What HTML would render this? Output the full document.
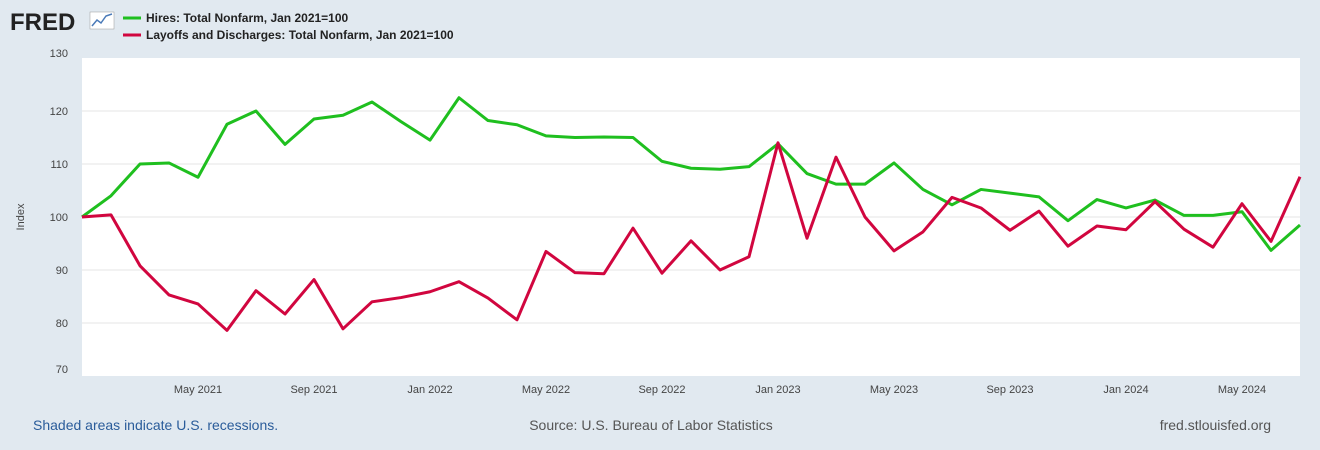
<!DOCTYPE html>
<html><head><meta charset="utf-8"><style>
body{margin:0;width:1320px;height:450px;background:#e1e9f0;font-family:"Liberation Sans",sans-serif;overflow:hidden}
svg{position:absolute;left:0;top:0}
</style></head><body>
<svg width="1320" height="450">
<g>
<text x="10" y="30" font-size="24" font-weight="bold" fill="#222">FRED</text>
<rect x="90" y="12" width="24" height="17" fill="#fff" stroke="#999" stroke-width="0.5"/>
<polyline points="92,26 97,20 101,23 106,16 112,14" fill="none" stroke="#4a7ab8" stroke-width="1.5"/>
</g>
<g>
<line x1="123" y1="18" x2="141" y2="18" stroke="#1fbf1f" stroke-width="3"/>
<text x="146" y="22" font-size="12" font-weight="bold" fill="#222">Hires: Total Nonfarm, Jan 2021=100</text>
<line x1="123" y1="35" x2="141" y2="35" stroke="#d1063f" stroke-width="3"/>
<text x="146" y="39" font-size="12" font-weight="bold" fill="#222">Layoffs and Discharges: Total Nonfarm, Jan 2021=100</text>
</g>
<rect x="82" y="58" width="1218" height="318" fill="#fff"/>
<g id="grid"></g>
<text transform="translate(24,217) rotate(-90)" text-anchor="middle" font-size="11" fill="#444">Index</text>
<g id="series"></g>
<text x="33" y="430" font-size="14" fill="#2a5c9a">Shaded areas indicate U.S. recessions.</text>
<text x="651" y="430" font-size="14" fill="#555" text-anchor="middle">Source: U.S. Bureau of Labor Statistics</text>
<text x="1271" y="430" font-size="14" fill="#555" text-anchor="end">fred.stlouisfed.org</text>
</svg>
<script>
const hires=[100,104,110,110.2,107.5,117.5,120,113.7,118.5,119.2,121.7,118,114.5,122.5,118.2,117.4,115.3,115,115.1,115,110.5,109.2,109,109.5,113.8,108.2,106.2,106.2,110.2,105.2,102.3,105.2,104.5,103.8,99.3,103.3,101.7,103.2,100.3,100.3,101,93.7,98.5];
const layoffs=[100,100.4,90.8,85.3,83.6,78.6,86.1,81.7,88.2,78.9,84,84.8,85.9,87.8,84.7,80.6,93.5,89.5,89.3,97.9,89.4,95.5,90,92.5,114,96,111.3,100,93.6,97.2,103.7,101.7,97.5,101.1,94.5,98.3,97.6,102.9,97.7,94.3,102.5,95.4,107.6];
const yTicks=[70,80,90,100,110,120,130];
const xTickLabels=["May 2021","Sep 2021","Jan 2022","May 2022","Sep 2022","Jan 2023","May 2023","Sep 2023","Jan 2024","May 2024"];
const xTickIdx=[4,8,12,16,20,24,28,32,36,40];
const NS="http://www.w3.org/2000/svg";
const x=i=>82+i*(1218/42);
const y=v=>376-(v-70)*(318/60);
const grid=document.getElementById('grid'),ser=document.getElementById('series');
yTicks.forEach(t=>{
 if(t>70&&t<130){const l=document.createElementNS(NS,'line');
 l.setAttribute('x1',82);l.setAttribute('x2',1300);l.setAttribute('y1',y(t));l.setAttribute('y2',y(t));
 l.setAttribute('stroke','#e6e6e6');
 
 grid.appendChild(l);}
 const tx=document.createElementNS(NS,'text');
 tx.setAttribute('x',68);tx.setAttribute('y',y(t)+(t==130?-1:(t==70?-3:4)));tx.setAttribute('text-anchor','end');
 tx.setAttribute('font-size','11');tx.setAttribute('fill','#444');tx.textContent=t;
 
 grid.appendChild(tx);
});
xTickLabels.forEach((s,k)=>{
 const tx=document.createElementNS(NS,'text');
 tx.setAttribute('x',x(xTickIdx[k]));tx.setAttribute('y',393);tx.setAttribute('text-anchor','middle');
 tx.setAttribute('font-size','11');tx.setAttribute('fill','#444');tx.textContent=s;
 
 grid.appendChild(tx);
});
[[hires,'#1fbf1f','hires-line'],[layoffs,'#d1063f','layoffs-line']].forEach(([d,c,n])=>{
 const p=document.createElementNS(NS,'polyline');
 p.setAttribute('points',d.map((v,i)=>x(i)+','+y(v)).join(' '));
 p.setAttribute('fill','none');p.setAttribute('stroke',c);p.setAttribute('stroke-width','3');p.setAttribute('stroke-linejoin','round');
 
 ser.appendChild(p);
});
</script>
</body></html>
